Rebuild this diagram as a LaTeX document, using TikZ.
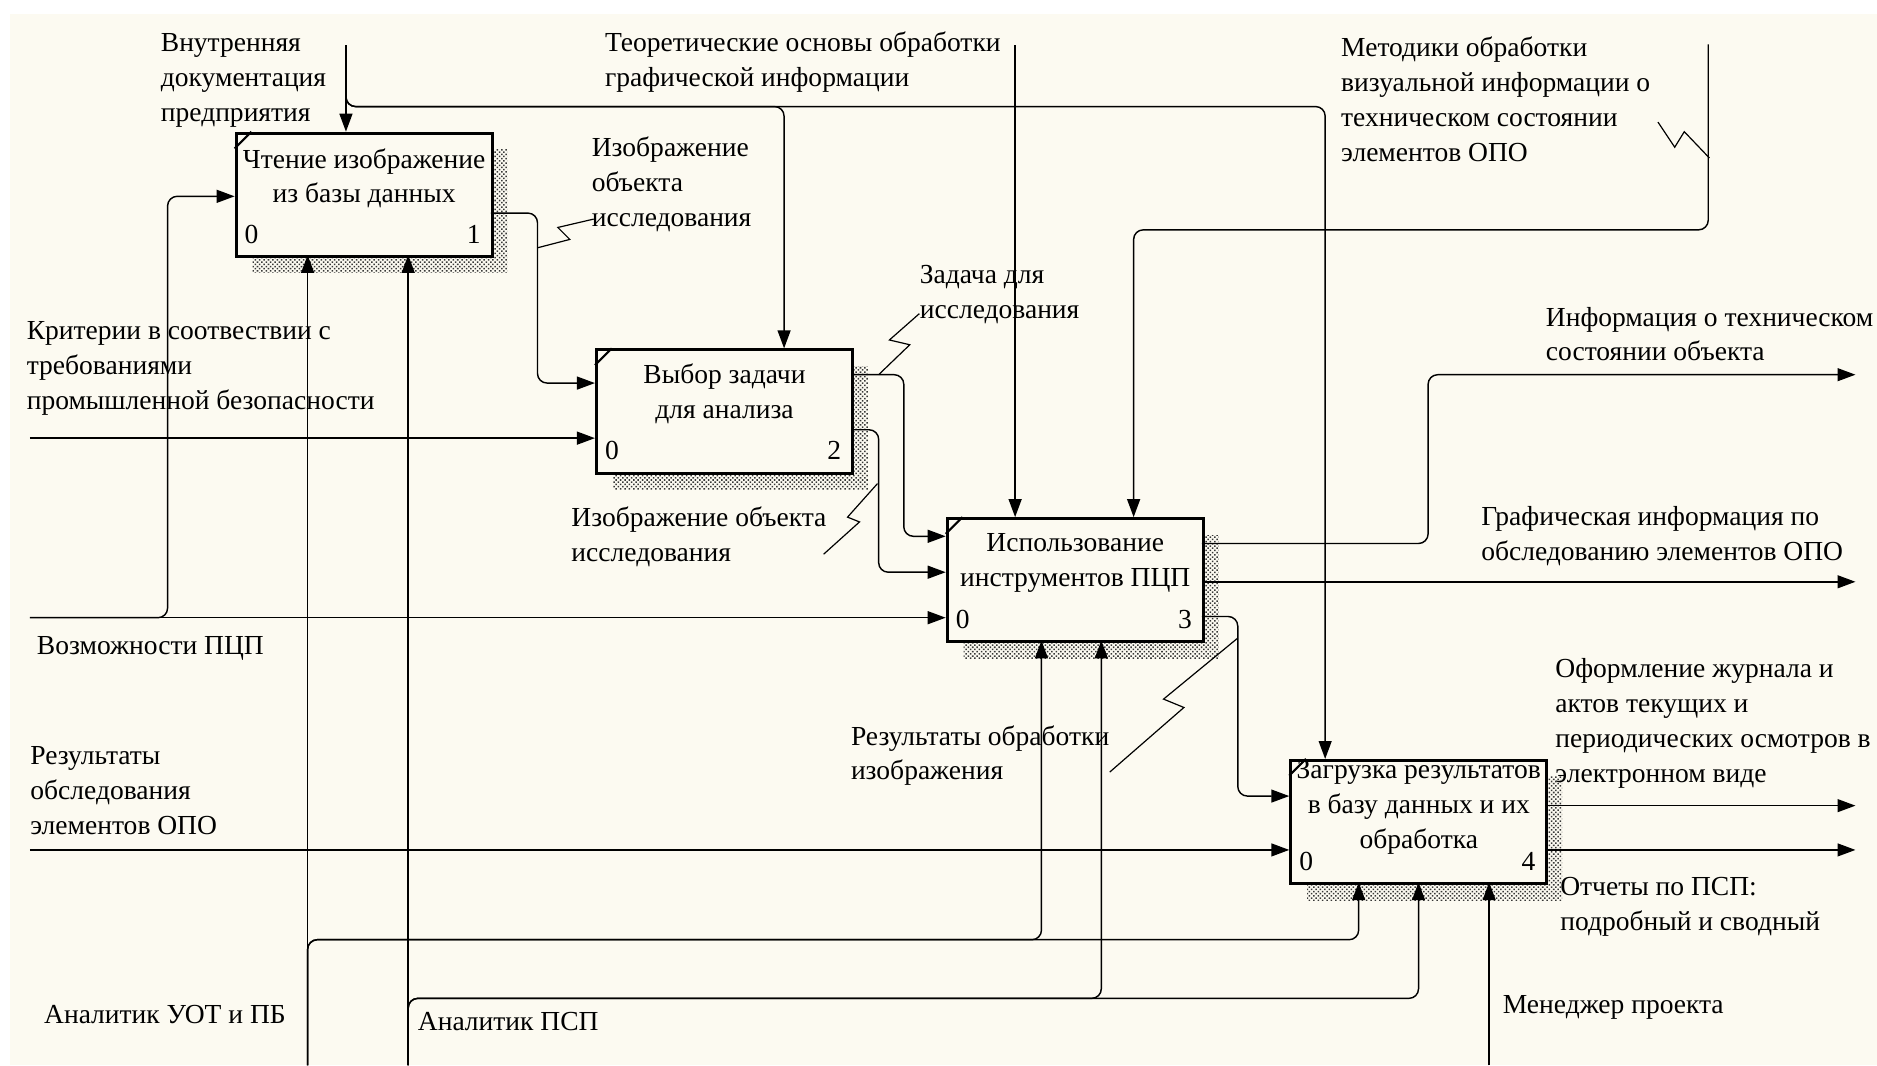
\documentclass[tikz,border=0pt]{standalone}
\usepackage{fontspec}
\setmainfont{Liberation Serif}
\usetikzlibrary{arrows.meta, patterns.meta}

\definecolor{paper}{RGB}{252,250,241}
\definecolor{hatch}{RGB}{55,55,55}

\begin{document}
\begin{tikzpicture}[
  x=0.5pt, y=-0.5pt,
  >={Triangle[length=7.5pt, width=5.4pt]},
  font=\fontsize{11.5}{14.6}\selectfont,
  act/.style={draw, line width=1.2pt, fill=paper, anchor=north west, inner sep=0pt,
              minimum width=107pt, minimum height=51.5pt},
  acttxt/.style={anchor=north, align=center, inner sep=0pt},
  actnum/.style={inner sep=0pt},
  lbl/.style={anchor=north west, align=left, inner sep=0pt},
  flow/.style={->, line width=0.6pt},
  turn/.style={flow, rounded corners=4pt},
  squig/.style={line width=0.5pt},
  shadow/.style={pattern={Dots[radius=0.45pt, distance=1.3pt, angle=45]}, pattern color=hatch},
]
  \useasboundingbox (0,0) rectangle (1568,890);
  \fill[paper] (8,12) rectangle (1568,890);

  % activity boxes, shadow first
  \foreach \name/\x/\y/\num in {b1/196/110/1, b2/497/291/2, b3/790/432/3, b4/1077/634/4} {
    \fill[shadow] (\x+15,\y+15) rectangle (\x+228,\y+118);
    \node[act] (\name) at (\x,\y) {};
    \draw[line width=0.9pt] (\x,\y+14) -- (\x+14,\y);
    \node[actnum, anchor=base west] (\name-0) at (\x+8,\y+93) {0};
    \node[actnum, anchor=base east] (\name-n) at (\x+206,\y+93) {\num};
  }

  \node[acttxt] (t1) at ([shift={(0,13.5)}]b1.north) {Чтение изображение\\из базы данных};
  \node[acttxt] (t2) at ([shift={(0,12.5)}]b2.north) {Выбор задачи\\для анализа};
  \node[acttxt] (t3) at ([shift={(0,13.5)}]b3.north) {Использование\\инструментов ПЦП};
  \node[acttxt] (t4) at ([shift={(0,0.5)}]b4.north) {Загрузка результатов\\в базу данных и их\\обработка};

  % ports: c = control, i = input, o = output, m = mechanism
  \foreach \b/\p/\dx/\dy in {b1/c1/93/0, b1/i1/0/54, b1/o1/214/68, b1/m1/61/103, b1/m2/145/103,
      b2/c1/158/0, b2/i1/0/29, b2/i2/0/75, b2/o1/214/22, b2/o2/214/68,
      b3/c1/58/0, b3/c2/157/0, b3/i1/0/16, b3/i2/0/46, b3/i3/0/84,
      b3/o1/214/22, b3/o2/214/54, b3/o3/214/83, b3/m1/80/103, b3/m2/130/103,
      b4/c1/30/0, b4/i1/0/31, b4/i2/0/76, b4/o1/214/39, b4/o2/214/76,
      b4/m1/58/103, b4/m2/108/103, b4/m3/167/103}
    \coordinate (\b-\p) at ([shift={(\dx,\dy)}]\b.north west);

  % free ends and bend lines
  \coordinate (docIn) at (289,38);
  \coordinate (theoIn) at (848,38);
  \coordinate (methIn) at (1427,37);
  \coordinate (critIn) at (25,366);
  \coordinate (capIn) at (25,516);
  \coordinate (resIn) at (25,710);
  \coordinate (uotIn) at (257,890);
  \coordinate (pspIn) at (341,890);
  \coordinate (mgrIn) at (1244,890);
  \coordinate (infoOut) at (1550,313);
  \coordinate (grafOut) at (1550,486);
  \coordinate (logOut) at (1550,673);
  \coordinate (repOut) at (1550,710);
  \coordinate (docRow) at (0,89);
  \coordinate (methRow) at (0,192);
  \coordinate (uotRow) at (0,785);
  \coordinate (pspRow) at (0,834);
  \coordinate (capCol) at (140,0);
  \coordinate (k1) at (449,0);
  \coordinate (k2) at (755,0);
  \coordinate (k3) at (734,0);
  \coordinate (k4) at (1193,0);
  \coordinate (k5) at (1034,0);

  % controls
  \draw[flow] (docIn) -- (b1-c1);
  \draw[turn] (docIn) |- (b2-c1 |- docRow) -- (b2-c1);
  \draw[turn] (docIn) |- (b4-c1 |- docRow) -- (b4-c1);
  \draw[flow] (theoIn) -- (b3-c1);
  \draw[turn] (methIn) |- (b3-c2 |- methRow) -- (b3-c2);

  % inputs
  \draw[flow] (critIn) -- (b2-i2);
  \draw[flow] (capIn) -- (b3-i3);
  \draw[turn] (capIn) -| (capCol |- b1-i1) -- (b1-i1);
  \draw[flow] (resIn) -- (b4-i2);

  % box to box
  \draw[turn] (b1-o1) -| (k1 |- b2-i1) -- (b2-i1);
  \draw[turn] (b2-o1) -| (k2 |- b3-i1) -- (b3-i1);
  \draw[turn] (b2-o2) -| (k3 |- b3-i2) -- (b3-i2);
  \draw[turn] (b3-o3) -| (k5 |- b4-i1) -- (b4-i1);

  % outputs
  \draw[turn] (b3-o1) -| (k4 |- infoOut) -- (infoOut);
  \draw[flow] (b3-o2) -- (grafOut);
  \draw[flow] (b4-o1) -- (logOut);
  \draw[flow] (b4-o2) -- (repOut);

  % mechanisms
  \draw[flow] (uotIn) -- (b1-m1);
  \draw[turn] (uotIn) |- (b3-m1 |- uotRow) -- (b3-m1);
  \draw[turn] (uotIn) |- (b4-m1 |- uotRow) -- (b4-m1);
  \draw[flow] (pspIn) -- (b1-m2);
  \draw[turn] (pspIn) |- (b3-m2 |- pspRow) -- (b3-m2);
  \draw[turn] (pspIn) |- (b4-m2 |- pspRow) -- (b4-m2);
  \draw[flow] (mgrIn) -- (b4-m3);

  % arrow labels
  \node[lbl] (lDoc) at (134,27.5) {Внутренняя\\документация\\предприятия};
  \node[lbl] (lTheo) at (505,26.5) {Теоретические основы обработки\\графической информации};
  \node[lbl] (lMeth) at (1120,30.5) {Методики обработки\\визуальной информации о\\техническом состоянии\\элементов ОПО};
  \node[lbl] (lImg1) at (494,114) {Изображение\\объекта\\исследования};
  \node[lbl] (lTask) at (768,221.5) {Задача для\\исследования};
  \node[lbl] (lCrit) at (22,268.5) {Критерии в соотвествии с\\требованиями\\промышленной безопасности};
  \node[lbl] (lInfo) at (1291,256) {Информация о техническом\\состоянии объекта};
  \node[lbl] (lImg2) at (477,423) {Изображение объекта\\исследования};
  \node[lbl] (lGraf) at (1237,423) {Графическая информация по\\обследованию элементов ОПО};
  \node[lbl] (lCap) at (30.5,531.5) {Возможности ПЦП};
  \node[lbl] (lProc) at (710.5,605.5) {Результаты обработки\\изображения};
  \node[lbl] (lLog) at (1299,549.5) {Оформление журнала и\\актов текущих и\\периодических осмотров в\\электронном виде};
  \node[lbl] (lRes) at (25,623.5) {Результаты\\обследования\\элементов ОПО};
  \node[lbl] (lRep) at (1303,732.5) {Отчеты по ПСП:\\подробный и сводный};
  \node[lbl] (lUot) at (36.5,839.5) {Аналитик УОТ и ПБ};
  \node[lbl] (lPsp) at (348.7,845) {Аналитик ПСП};
  \node[lbl] (lMgr) at (1255,831.5) {Менеджер проекта};

  % zigzag ties from labels to their arrows
  \foreach \xa/\ya/\xb/\yb/\xc/\yc/\xd/\yd in {
      496/183/466/190/476/200/449/207,
      768/262/743/284/760/288/734/313,
      733/404/708/432/718/436/688/463,
      1385/102/1399/123/1407/110/1428/132,
      927/645/989/591/972/584/1034/533}
    \draw[squig] (\xa,\ya) -- (\xb,\yb) -- (\xc,\yc) -- (\xd,\yd);
\end{tikzpicture}
\end{document}
